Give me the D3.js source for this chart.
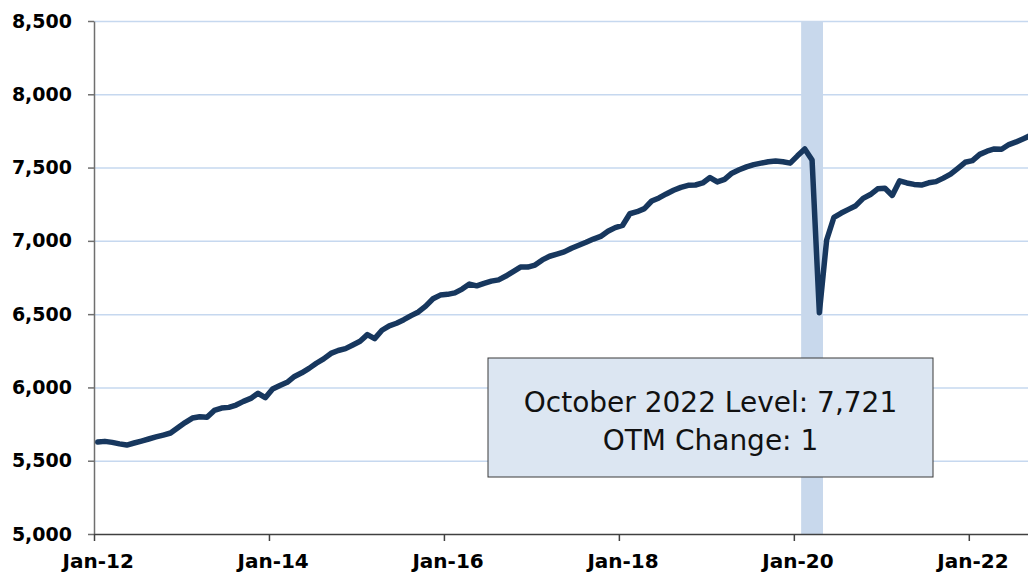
<!DOCTYPE html>
<html>
<head>
<meta charset="utf-8">
<script src="https://cdn.jsdelivr.net/npm/d3@7"></script>
<style>
  body { margin: 0; background: #fff; }
  svg { display: block; }
</style>
</head>
<body>
<svg id="chart"></svg>
<script>
// Monthly level, Jan 2012 .. Oct 2022 (one row per year)
const startYear = 2012;
const levels = [
  5627, 5632, 5625, 5615, 5607, 5621, 5634, 5648, 5662, 5675, 5689, 5725, // 2012
  5760, 5791, 5800, 5796, 5843, 5859, 5864, 5880, 5905, 5925, 5960, 5930, // 2013
  5989, 6013, 6035, 6075, 6100, 6130, 6165, 6195, 6232, 6252, 6265, 6290, // 2014
  6315, 6360, 6333, 6390, 6420, 6438, 6462, 6490, 6515, 6555, 6605, 6630, // 2015
  6635, 6645, 6671, 6705, 6693, 6710, 6725, 6734, 6760, 6790, 6821, 6821, // 2016
  6835, 6870, 6895, 6910, 6925, 6950, 6970, 6990, 7012, 7030, 7065, 7090, // 2017
  7105, 7185, 7199, 7220, 7272, 7293, 7320, 7345, 7365, 7379, 7381, 7395, // 2018
  7432, 7402, 7420, 7462, 7485, 7505, 7520, 7530, 7540, 7545, 7540, 7530, // 2019
  7580, 7627, 7552, 6510, 7006, 7161, 7190, 7215, 7240, 7290, 7316, 7355, // 2020
  7359, 7310, 7409, 7395, 7385, 7381, 7396, 7404, 7428, 7455, 7495, 7536, // 2021
  7547, 7590, 7612, 7627, 7625, 7657, 7675, 7697, 7720, 7721              // 2022
];

const xTickMonths = [0, 24, 48, 72, 96, 120];
const xTickLabels = ["Jan-12", "Jan-14", "Jan-16", "Jan-18", "Jan-20", "Jan-22"];
const yTicks = [5000, 5500, 6000, 6500, 7000, 7500, 8000, 8500];

// recession shading: Feb 2020 through Apr 2020 (month indexes)
const recessionStart = 97;
const recessionEnd = 99;

const noteLines = ["October 2022 Level: 7,721", "OTM Change: 1"];

// Set up dimensions and margins
const margin = { top: 21, right: 0, bottom: 39, left: 94 };
const monthWidth = 7.29;
const width = 1028 - margin.left - margin.right;
const height = 573 - margin.top - margin.bottom;

const svg = d3.select("#chart")
  .attr("width", 1028)
  .attr("height", 573)
  .append("g")
  .attr("transform", `translate(${margin.left},${margin.top})`);

// Scales: x is month index since Jan 2012, points sit mid-month
const x = d3.scaleLinear()
  .domain([0, 130])
  .range([0, 130 * monthWidth]);

const y = d3.scaleLinear()
  .domain([5000, 8500])
  .range([height, 0]);

// Gridlines
svg.append("g")
  .attr("class", "grid")
  .call(d3.axisLeft(y).tickValues(yTicks.slice(1)).tickSize(-x(130)).tickFormat(""))
  .call(g => g.select(".domain").remove())
  .call(g => g.selectAll("line").attr("stroke", "#c6d8ef").attr("stroke-width", 1.5));

// Recession band
svg.append("rect")
  .attr("x", x(recessionStart))
  .attr("y", 0)
  .attr("width", x(recessionEnd + 1) - x(recessionStart))
  .attr("height", height)
  .attr("fill", "#c8d8ec");

// Line
const line = d3.line()
  .x((d, i) => x(i + 0.5))
  .y(d => y(d));

svg.append("path")
  .datum(levels)
  .attr("fill", "none")
  .attr("stroke", "#17375e")
  .attr("stroke-width", 5.5)
  .attr("stroke-linejoin", "round")
  .attr("stroke-linecap", "round")
  .attr("d", line);

// Y axis
svg.append("g")
  .attr("class", "y-axis")
  .call(d3.axisLeft(y).tickValues(yTicks).tickFormat(d3.format(",")).tickSize(6).tickSizeOuter(0).tickPadding(16))
  .call(g => g.select(".domain").attr("stroke", "#6f6f6f").attr("stroke-width", 1.5))
  .call(g => g.selectAll("line").attr("stroke", "#6f6f6f").attr("stroke-width", 1.5))
  .call(g => g.selectAll("text")
    .attr("fill", "#000")
    .style("font-family", "'DejaVu Sans', sans-serif")
    .style("font-size", "19px")
    .style("font-weight", "bold"));

// X axis
svg.append("g")
  .attr("class", "x-axis")
  .attr("transform", `translate(0,${height})`)
  .call(d3.axisBottom(x).tickValues(xTickMonths).tickFormat((d, i) => xTickLabels[i]).tickSize(7).tickSizeOuter(0).tickPadding(13))
  .call(g => g.select(".domain").attr("stroke", "#404040").attr("stroke-width", 1.5))
  .call(g => g.selectAll("line").attr("stroke", "#404040").attr("stroke-width", 1.5))
  .call(g => g.selectAll("text")
    .attr("dx", monthWidth / 2)
    .attr("fill", "#000")
    .style("font-family", "'DejaVu Sans', sans-serif")
    .style("font-size", "20px")
    .style("font-weight", "bold"));

// Annotation box
const note = svg.append("g")
  .attr("transform", `translate(${488 - margin.left},${358 - margin.top})`);

note.append("rect")
  .attr("width", 445)
  .attr("height", 119)
  .attr("fill", "#dce6f2")
  .attr("stroke", "#3a3a3a")
  .attr("stroke-width", 1);

note.selectAll("text")
  .data(noteLines)
  .enter()
  .append("text")
  .attr("x", 222.5)
  .attr("y", (d, i) => 54 + i * 38)
  .attr("text-anchor", "middle")
  .attr("fill", "#111")
  .style("font-family", "'DejaVu Sans', sans-serif")
  .style("font-size", "28px")
  .text(d => d);
</script>
</body>
</html>
